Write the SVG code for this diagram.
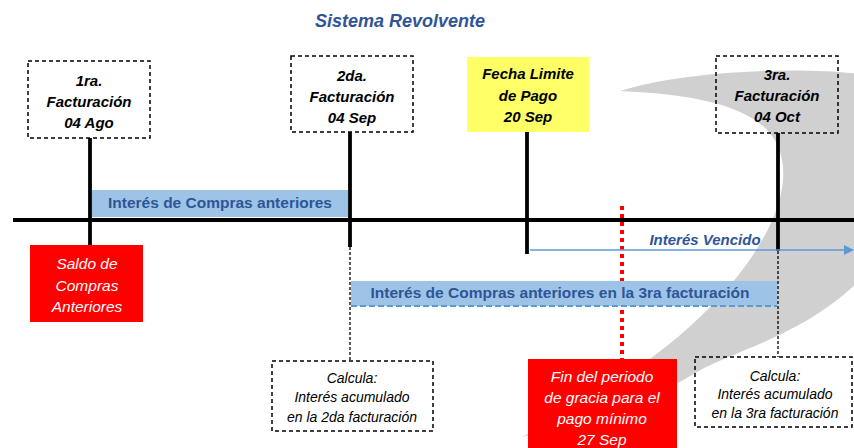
<svg xmlns="http://www.w3.org/2000/svg" width="854" height="448" viewBox="0 0 854 448">
<defs>
<style>
.lbl{font-family:"Liberation Sans",Arial,sans-serif;font-style:italic;font-weight:bold;font-size:15px;fill:#000;text-anchor:middle}
.wht{font-family:"Liberation Sans",Arial,sans-serif;font-style:italic;font-size:15.5px;fill:#fff;text-anchor:middle}
.calc{font-family:"Liberation Sans",Arial,sans-serif;font-style:italic;font-size:14px;fill:#000;text-anchor:middle}
.bar{font-family:"Liberation Sans",Arial,sans-serif;font-weight:bold;font-size:15.5px;fill:#2F5597;text-anchor:middle}
.dbox{fill:none;stroke:#000;stroke-width:1.5;stroke-dasharray:4 3}
.thick{stroke:#000;stroke-width:3.8;fill:none}
.thin{stroke:#000;stroke-width:1.3;stroke-dasharray:3 2;fill:none}
</style>
<marker id="arr" markerWidth="10" markerHeight="10" refX="9" refY="5" orient="auto" markerUnits="userSpaceOnUse">
<path d="M0,0 L10,5 L0,10 Z" fill="#5B9BD5"/>
</marker>
</defs>
<rect width="854" height="448" fill="#fff"/>
<path id="swoosh" d="M522,437 C590,400 650,365 700,317 C760,260 790,200 782,160 C775,115 720,95 620,91 C680,72 790,66 860,74 L860,280 C805,335 735,350 697,372 C660,395 600,420 522,437 Z" fill="#d0d0d0"/>
<text x="400" y="27" font-family="Liberation Sans, Arial, sans-serif" font-style="italic" font-weight="bold" font-size="18" fill="#2F5597" text-anchor="middle">Sistema Revolvente</text>
<g id="connectors">
<line x1="622" y1="206" x2="622" y2="359" stroke="#FF0000" stroke-width="4" stroke-dasharray="4 4"/>
<line class="thick" x1="13" y1="220" x2="854" y2="220"/>
<line class="thick" x1="90" y1="138" x2="90" y2="245"/>
<line class="thick" x1="350" y1="132" x2="350" y2="247"/>
<line class="thick" x1="527" y1="131" x2="527" y2="254"/>
<line class="thick" x1="778" y1="133" x2="778" y2="251"/>
<line x1="530" y1="250" x2="853" y2="250" stroke="#5B9BD5" stroke-width="1.5" marker-end="url(#arr)"/>
</g>
<g id="bar1">
<rect x="92" y="190" width="256" height="27" fill="#9DC3E6"/>
<text class="bar" x="220" y="208">Interés de Compras anteriores</text>
</g>
<g id="bar2">
<rect x="351" y="281" width="426" height="25" fill="#9DC3E6"/>
<line x1="351" y1="306" x2="777" y2="306" stroke="#5B9BD5" stroke-width="2" stroke-dasharray="6 3"/>
<text class="bar" x="560" y="298">Interés de Compras anteriores en la 3ra facturación</text>
</g>
<g id="dashed-links">
<line class="thin" x1="350" y1="247" x2="350" y2="361"/>
<line class="thin" x1="778" y1="251" x2="778" y2="357"/>
</g>
<text x="705" y="245" font-family="Liberation Sans, Arial, sans-serif" font-style="italic" font-weight="bold" font-size="15" fill="#2F5597" text-anchor="middle">Interés Vencido</text>
<g id="fact1">
<rect class="dbox" x="28" y="61" width="122" height="77"/>
<text class="lbl" x="89" y="86">1ra.</text>
<text class="lbl" x="89" y="107">Facturación</text>
<text class="lbl" x="89" y="128">04 Ago</text>
</g>
<g id="fact2">
<rect class="dbox" x="291" y="56" width="122" height="76"/>
<text class="lbl" x="352" y="81">2da.</text>
<text class="lbl" x="352" y="102">Facturación</text>
<text class="lbl" x="352" y="123">04 Sep</text>
</g>
<g id="fechalimite">
<rect x="467" y="57" width="122" height="75" fill="#FFFF66"/>
<text class="lbl" x="528" y="79">Fecha Limite</text>
<text class="lbl" x="528" y="101">de Pago</text>
<text class="lbl" x="528" y="122">20 Sep</text>
</g>
<g id="fact3">
<rect class="dbox" x="716" y="56" width="122" height="77"/>
<text class="lbl" x="777" y="80">3ra.</text>
<text class="lbl" x="777" y="101">Facturación</text>
<text class="lbl" x="777" y="122">04 Oct</text>
</g>
<g id="saldo">
<rect x="30" y="245" width="113" height="77" fill="#FF0000"/>
<text class="wht" x="87" y="269">Saldo de</text>
<text class="wht" x="87" y="291">Compras</text>
<text class="wht" x="87" y="312">Anteriores</text>
</g>
<g id="calcula2">
<rect class="dbox" x="272" y="361" width="161" height="70" fill="#fff"/>
<text class="calc" x="352" y="383">Calcula:</text>
<text class="calc" x="352" y="402">Interés acumulado</text>
<text class="calc" x="352" y="422">en la 2da facturación</text>
</g>
<g id="fingracia">
<rect x="528" y="359" width="149" height="95" fill="#FF0000"/>
<text class="wht" x="602" y="382">Fin del periodo</text>
<text class="wht" x="602" y="403">de gracia para el</text>
<text class="wht" x="602" y="424">pago mínimo</text>
<text class="wht" x="602" y="445">27 Sep</text>
</g>
<g id="calcula3">
<rect class="dbox" x="695" y="357" width="157" height="70" fill="#fff"/>
<text class="calc" x="775" y="381">Calcula:</text>
<text class="calc" x="775" y="399">Interés acumulado</text>
<text class="calc" x="775" y="418">en la 3ra facturación</text>
</g>
</svg>
